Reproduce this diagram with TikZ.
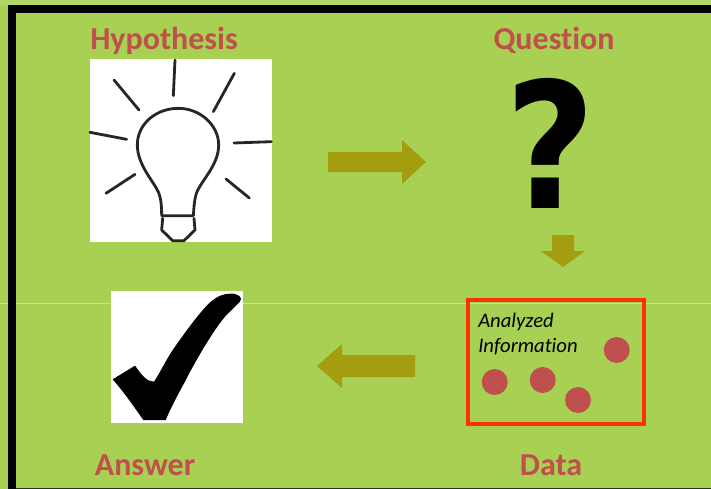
\documentclass[tikz,border=0pt]{standalone}
\usepackage{fontspec}
\setmainfont{Carlito}[Ligatures=CommonOff]
\newfontfamily\qmfont{DejaVu Sans}
\definecolor{bggreen}{HTML}{A8D052}
\definecolor{toplight}{HTML}{B2D568}
\definecolor{titlered}{HTML}{C0504D}
\definecolor{arrowolive}{HTML}{A59D10}
\definecolor{boxred}{HTML}{FF3300}
\definecolor{rulelight}{HTML}{CDE396}
\tikzset{
  titletext/.style={font=\fontsize{24}{28}\selectfont\bfseries, text=titlered, anchor=base, inner sep=0pt},
  infotext/.style={font=\fontsize{15.5}{18.7}\selectfont\itshape, anchor=base west, inner sep=0pt, text=black},
  arrowshape/.style={fill=arrowolive, draw=none},
  dotshape/.style={circle, fill=titlered, draw=none, minimum size=19.5pt, inner sep=0pt},
  photo/.style={fill=white, draw=none},
  bulbline/.style={draw=black!85, line width=2.1pt, line cap=round, line join=round},
}
\begin{document}
\begin{tikzpicture}[x=0.75pt,y=-0.75pt]
\useasboundingbox (0,0) rectangle (711,489);
\fill[bggreen] (0,0) rectangle (711,489);
\fill[toplight] (0,0) rectangle (711,4.5);
\fill[black] (8,5) rectangle (711,12.5);
\fill[black] (8,5) rectangle (16,489);
\fill[black!75!bggreen] (16,487.8) rectangle (711,489);
\draw[rulelight, line width=0.6pt] (0,303.5) -- (8,303.5) (16,303.5) -- (711,303.5);

% titles
\node[titletext] (hyp) at (164,49) {Hypothesis};
\node[titletext] (que) at (554,49) {Question};
\node[titletext] (ans) at (145,475) {Answer};
\node[titletext] (dat) at (551,475) {Data};

% light bulb
\fill[photo] (90,59) rectangle (272,242);
\begin{scope}[shift={(80,50)},x=0.25pt,y=-0.25pt]
  \draw[bulbline] (245,497)
    .. controls (245,470) and (243,445) .. (236,428)
    .. controls (222,395) and (172,345) .. (172,285)
    .. controls (172,220) and (230,175) .. (295,175)
    .. controls (360,175) and (416,225) .. (416,285)
    .. controls (416,345) and (365,390) .. (350,428)
    .. controls (342,450) and (342,475) .. (340,497) -- cycle;
  \draw[bulbline] (248,505) -- (245,540) -- (278,572) -- (312,572) -- (345,540) -- (342,505);
  \draw[bulbline] (285,30) -- (280,137);
  \draw[bulbline] (102,90) -- (177,180);
  \draw[bulbline] (463,70) -- (400,185);
  \draw[bulbline] (30,247) -- (140,268);
  \draw[bulbline] (462,279) -- (574,275);
  \draw[bulbline] (78,430) -- (165,373);
  \draw[bulbline] (438,387) -- (508,444);
\end{scope}

% question mark
\node[font=\qmfont\fontsize{137}{137}\selectfont\bfseries, text=black, anchor=base, inner sep=0pt, xscale=0.85, yscale=0.96, transform shape] (qm) at (550.5,208) {?};

% arrows
\fill[arrowshape] (328,152) -- (402,152) -- (402,140) -- (426,162) -- (402,184) -- (402,172) -- (328,172) -- cycle;
\fill[arrowshape] (552,235) -- (574,235) -- (574,251) -- (585,251) -- (563,267) -- (541,251) -- (552,251) -- cycle;
\fill[arrowshape] (415,355) -- (342,355) -- (342,344) -- (317,366) -- (342,388) -- (342,377) -- (415,377) -- cycle;

% check mark
\fill[photo] (111,291) rectangle (243,423);
\begin{scope}[shift={(0,280)},x=0.25pt,y=-0.25pt]
  \fill[black] (338,298) -- (405,257)
    .. controls (425,285) and (440,305) .. (462,305)
    .. controls (485,270) and (500,235) .. (525,200)
    .. controls (550,165) and (575,130) .. (600,100)
    .. controls (625,70) and (650,42) .. (690,41)
    .. controls (715,40) and (730,52) .. (720,65)
    .. controls (700,85) and (690,95) .. (675,110)
    .. controls (650,140) and (632,170) .. (610,205)
    .. controls (590,240) and (572,270) .. (555,305)
    .. controls (530,350) and (512,385) .. (497,420)
    -- (430,420)
    .. controls (405,385) and (375,340) .. (338,298) -- cycle;
\end{scope}

% data box
\draw[boxred, line width=3pt] (468,300) rectangle (644,424);
\node[infotext] (info1) at (478,327) {Analyzed};
\node[infotext] (info2) at (478,352) {Information};
\node[dotshape] (d1) at (494.7,382) {};
\node[dotshape] (d2) at (542.7,380) {};
\node[dotshape] (d3) at (578,400) {};
\node[dotshape] (d4) at (616.7,350) {};
\end{tikzpicture}
\end{document}
